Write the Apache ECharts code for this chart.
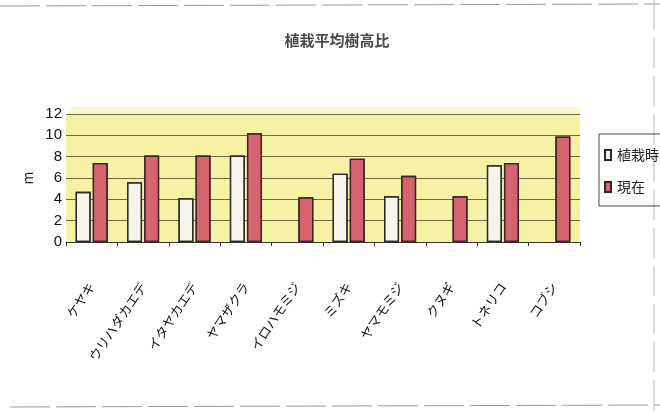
<!DOCTYPE html>
<html>
<head>
<meta charset="utf-8">
<script src="https://cdn.jsdelivr.net/npm/echarts@6/dist/echarts.min.js"></script>
<style>
  html, body { margin: 0; padding: 0; background: #ffffff; }
  #chart { width: 660px; height: 412px; }
</style>
</head>
<body>
<div id="chart"></div>
<script>
// Tree species
const categories = ['ケヤキ', 'ウリハダカエデ', 'イタヤカエデ', 'ヤマザクラ', 'イロハモミジ', 'ミズキ', 'ヤマモミジ', 'クヌギ', 'トネリコ', 'コブシ'];
// Average height at planting (m); null where no record
const plantedHeight = [4.7, 5.6, 4.1, 8.1, null, 6.4, 4.3, null, 7.2, null];
// Average height now (m)
const currentHeight = [7.4, 8.1, 8.1, 10.2, 4.2, 7.8, 6.2, 4.3, 7.4, 9.9];
const seriesNames = ['植栽時', '現在'];
const yMin = 0, yMax = 12, yStep = 2;

const chart = echarts.init(document.getElementById('chart'), null, { renderer: 'canvas' });

const fontJP = '"Noto Sans CJK JP", "Noto Sans", sans-serif';

chart.setOption({
  backgroundColor: '#ffffff',
  animation: false,
  title: {
    text: '植栽平均樹高比',
    left: 332,
    top: 28,
    textAlign: 'center',
    textStyle: { fontFamily: fontJP, fontSize: 15, fontWeight: 'bold', color: '#4a4a4a' }
  },
  legend: {
    orient: 'vertical',
    left: 599,
    top: 134,
    itemWidth: 6,
    itemHeight: 10,
    itemGap: 18,
    padding: [14, 8, 12, 5],
    borderColor: '#444444',
    borderWidth: 1,
    icon: 'rect',
    textStyle: { fontFamily: fontJP, fontSize: 14, color: '#222222', padding: [0, 0, 0, 1] },
    data: seriesNames
  },
  grid: { left: 66, right: 80, top: 114, bottom: 170, containLabel: false },
  xAxis: {
    type: 'category',
    data: categories,
    axisLine: { show: true, lineStyle: { color: '#333333', width: 1 } },
    axisTick: { show: true, length: 4, lineStyle: { color: '#333333' } },
    axisLabel: {
      rotate: 56,
      margin: 42,
      interval: 0,
      fontFamily: fontJP,
      fontSize: 13,
      color: '#111111'
    }
  },
  yAxis: {
    type: 'value',
    min: yMin,
    max: yMax,
    interval: yStep,
    name: 'm',
    nameLocation: 'middle',
    nameGap: 16,
    nameRotate: 90,
    nameTextStyle: { fontFamily: fontJP, fontSize: 14, color: '#222222' },
    axisLine: { show: false },
    axisTick: { show: false },
    axisLabel: { fontFamily: 'Liberation Sans, Arial, sans-serif', fontSize: 15, color: '#111111', margin: 4 },
    splitLine: { show: true, lineStyle: { color: '#6e6a48', width: 1.2 } },
    splitArea: { show: true, areaStyle: { color: ['#f6f1a4', '#f6f1a4'] } }
  },
  series: [
    {
      name: seriesNames[0],
      type: 'bar',
      data: plantedHeight,
      barWidth: 15,
      barGap: '14%',
      itemStyle: {
        color: '#f8f5ec',
        borderColor: '#2a2a2a',
        borderWidth: 1.3,
        decal: {
          symbol: 'circle',
          symbolSize: 0.6,
          color: 'rgba(110,150,130,0.5)',
          dashArrayX: [1, 2],
          dashArrayY: [1, 3],
          rotation: 0.6
        }
      }
    },
    {
      name: seriesNames[1],
      type: 'bar',
      data: currentHeight,
      barWidth: 15,
      itemStyle: {
        color: '#d6636e',
        borderColor: '#3a2428',
        borderWidth: 1.3,
        decal: {
          symbol: 'circle',
          symbolSize: 0.6,
          color: 'rgba(150,60,90,0.35)',
          dashArrayX: [1, 2],
          dashArrayY: [1, 3],
          rotation: 0.6
        }
      }
    }
  ],
  graphic: [
    // faint yellow haze just above the top gridline
    { type: 'rect', shape: { x: 70, y: 107, width: 510, height: 7 }, style: { fill: 'rgba(246,241,164,0.6)' }, z: -1 },
    // scanned page frame edges
    { type: 'line', shape: { x1: 0, y1: 6, x2: 660, y2: 4 }, style: { stroke: '#9a9a9a', lineWidth: 1, lineDash: [40, 6] } },
    { type: 'line', shape: { x1: 10, y1: 407, x2: 660, y2: 405 }, style: { stroke: '#9a9a9a', lineWidth: 1, lineDash: [40, 6] } },
    { type: 'line', shape: { x1: 654, y1: 0, x2: 654, y2: 412 }, style: { stroke: '#bbbbbb', lineWidth: 1, lineDash: [30, 8] } }
  ]
});
</script>
</body>
</html>
